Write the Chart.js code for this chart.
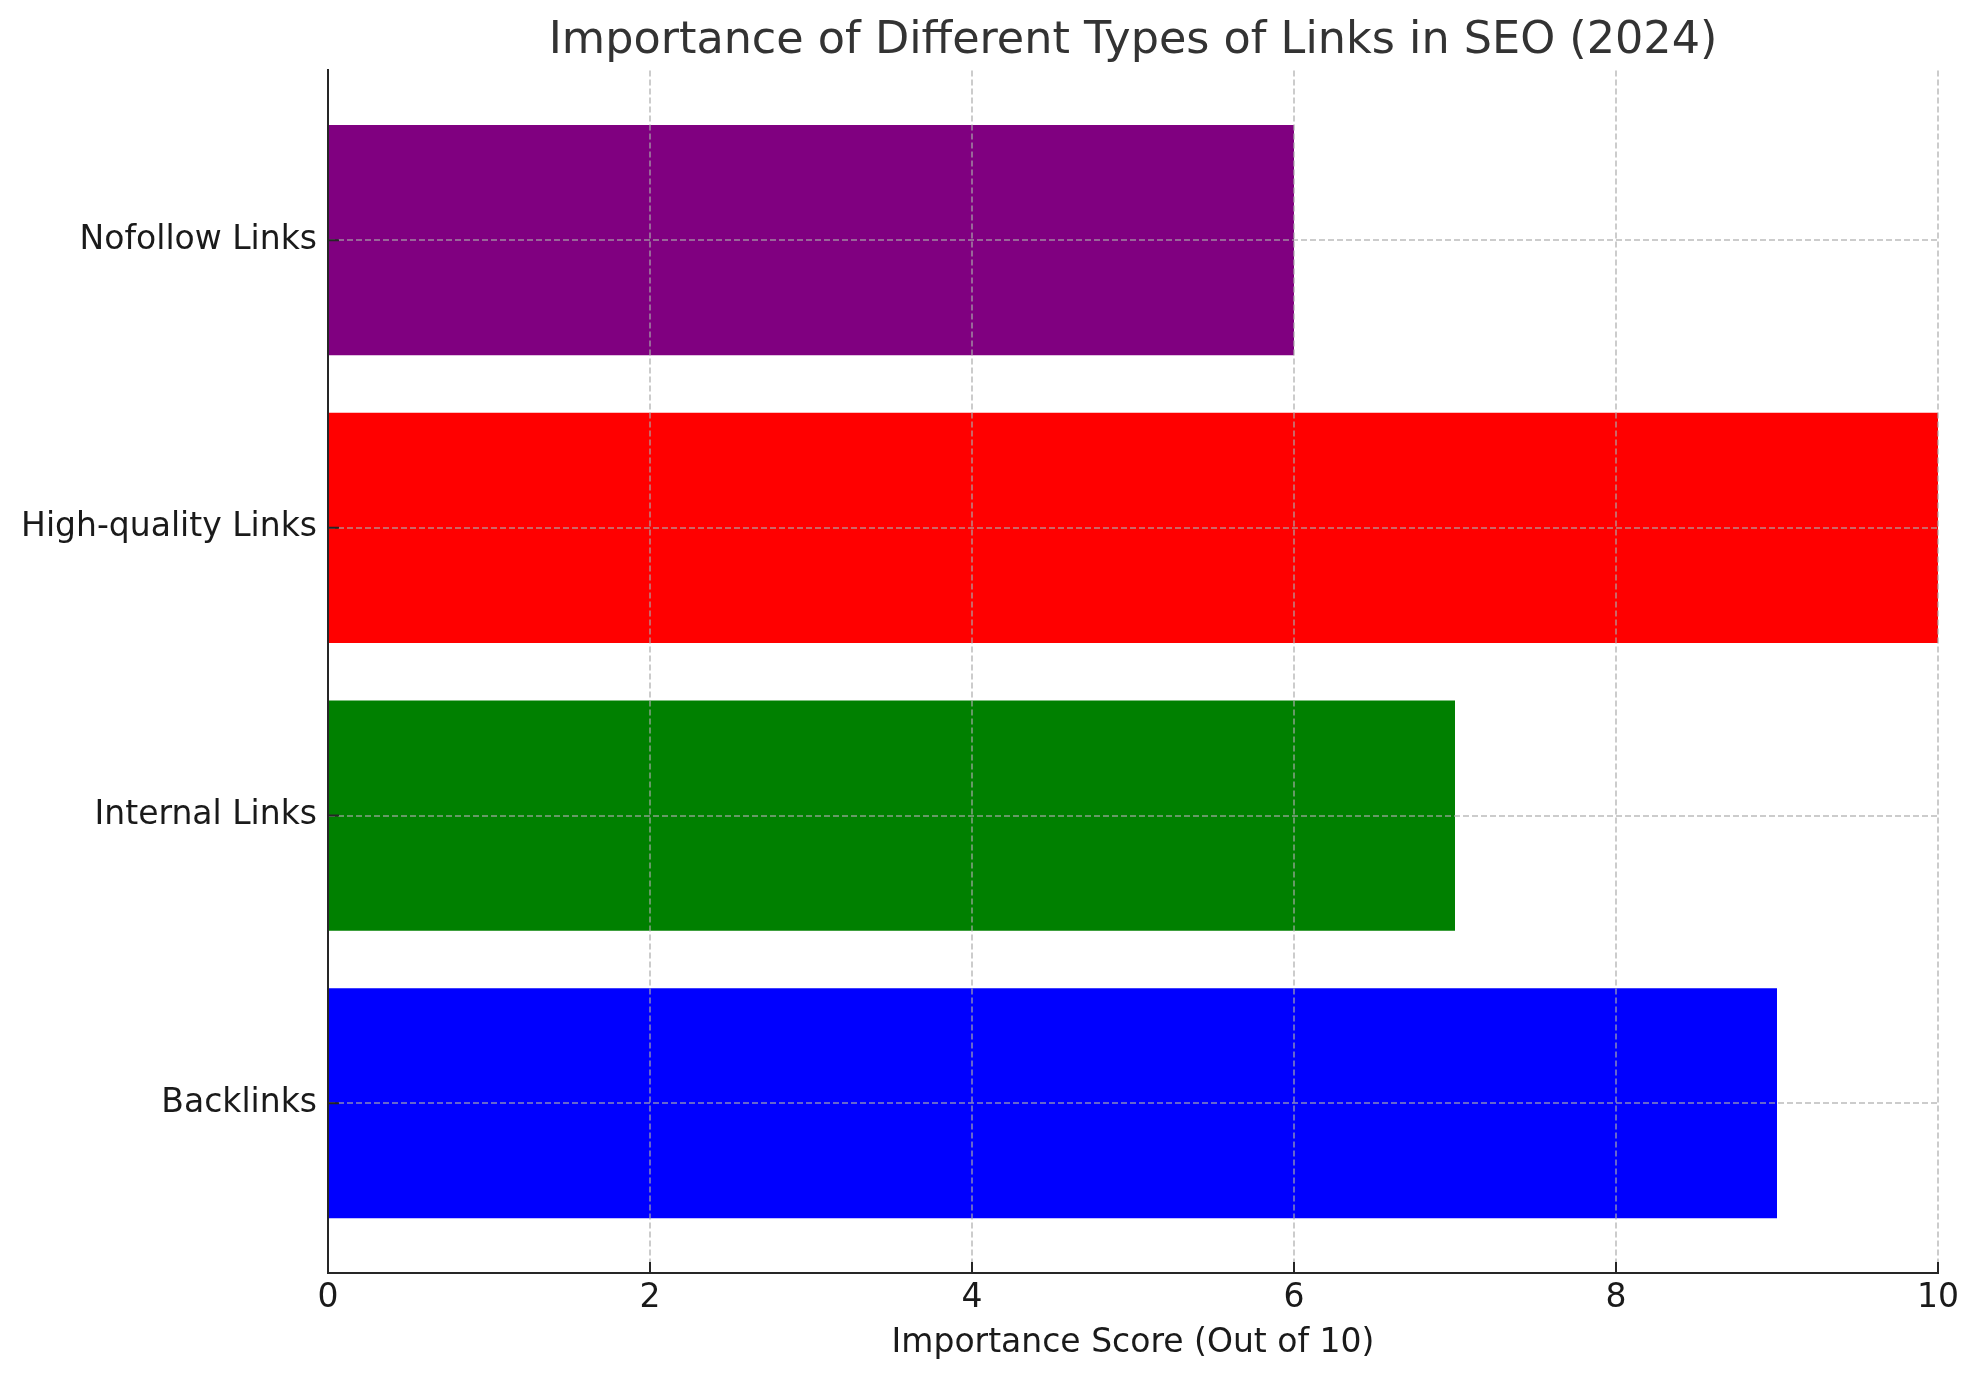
<!DOCTYPE html>
<html>
<head>
<meta charset="utf-8">
<script src="https://cdn.jsdelivr.net/npm/chart.js@4.4.1/dist/chart.umd.min.js"></script>
<style>
  body { margin: 0; background: #fff; }
  #wrap { width: 1980px; height: 1380px; }
</style>
</head>
<body>
<div id="wrap"><canvas id="myChart" width="1980" height="1380"></canvas></div>
<script>
// data, bottom to top as in the original
var linkTypes = ['Backlinks', 'Internal Links', 'High-quality Links', 'Nofollow Links'];
var scores = [9, 7, 10, 6];
var barColors = ['blue', 'green', 'red', 'purple'];
var xTicks = [0, 2, 4, 6, 8, 10];

var FONT = "'DejaVu Sans', sans-serif";
var gridColor = 'rgba(170, 170, 170, 0.6)';
var axisColor = '#262626';

// small inward tick marks like the original axes
var inwardTicks = {
    id: 'inwardTicks',
    afterDraw: function(chart) {
        var ctx = chart.ctx;
        var xs = chart.scales.x, ys = chart.scales.y;
        ctx.save();
        ctx.strokeStyle = axisColor;
        ctx.lineWidth = 2;
        ctx.beginPath();
        xs.ticks.forEach(function(t) {
            var px = xs.getPixelForValue(t.value);
            ctx.moveTo(px, xs.top);
            ctx.lineTo(px, xs.top - 11);
        });
        ys.ticks.forEach(function(t) {
            var py = ys.getPixelForValue(t.value);
            ctx.moveTo(ys.right, py);
            ctx.lineTo(ys.right + 11, py);
        });
        ctx.stroke();
        ctx.restore();
    }
};

var ctx = document.getElementById('myChart').getContext('2d');
var myBarChart = new Chart(ctx, {
    type: 'bar',
    data: {
        datasets: [{
            data: linkTypes.map(function(name, i) { return { y: i, x: scores[i] }; }),
            backgroundColor: barColors,
            borderWidth: 0,
            barPercentage: 0.8,
            categoryPercentage: 1.0
        }]
    },
    options: {
        indexAxis: 'y',
        responsive: false,
        animation: false,
        layout: { padding: { left: 0, right: 42, top: 0, bottom: 0 } },
        plugins: {
            legend: { display: false },
            tooltip: { enabled: false },
            title: {
                display: true,
                fullSize: false,
                text: 'Importance of Different Types of Links in SEO (2024)',
                color: '#333333',
                font: { family: FONT, size: 44.5, weight: 'normal', lineHeight: 1.2 },
                padding: { top: 15, bottom: 2 }
            }
        },
        scales: {
            x: {
                type: 'linear',
                position: 'bottom',
                min: 0,
                max: 10,
                z: 1,
                afterBuildTicks: function(scale) {
                    scale.ticks = xTicks.map(function(v) { return { value: v }; });
                },
                afterFit: function(scale) { scale.height = 107; },
                ticks: {
                    color: '#1a1a1a',
                    font: { family: FONT, size: 33 },
                    padding: 6,
                    maxRotation: 0
                },
                grid: {
                    color: gridColor,
                    lineWidth: 2,
                    drawTicks: false,
                    z: 1
                },
                border: { display: true, color: axisColor, width: 2, dash: [6, 3], z: 2 },
                title: {
                    display: true,
                    text: 'Importance Score (Out of 10)',
                    color: '#1a1a1a',
                    font: { family: FONT, size: 33, lineHeight: 1.2 },
                    padding: { top: 0, bottom: 17 }
                }
            },
            y: {
                type: 'linear',
                position: 'left',
                min: -0.59,
                max: 3.59,
                offset: false,
                z: 1,
                afterBuildTicks: function(scale) {
                    scale.ticks = linkTypes.map(function(name, i) { return { value: i }; });
                },
                afterFit: function(scale) { scale.width = 328; },
                ticks: {
                    color: '#1a1a1a',
                    font: { family: FONT, size: 33 },
                    padding: 11,
                    callback: function(value) { return linkTypes[value]; }
                },
                grid: {
                    color: gridColor,
                    lineWidth: 2,
                    drawTicks: false,
                    offset: false,
                    z: 1
                },
                border: { display: true, color: axisColor, width: 2, dash: [6, 3], z: 2 }
            }
        }
    },
    plugins: [inwardTicks]
});
</script>
</body>
</html>
